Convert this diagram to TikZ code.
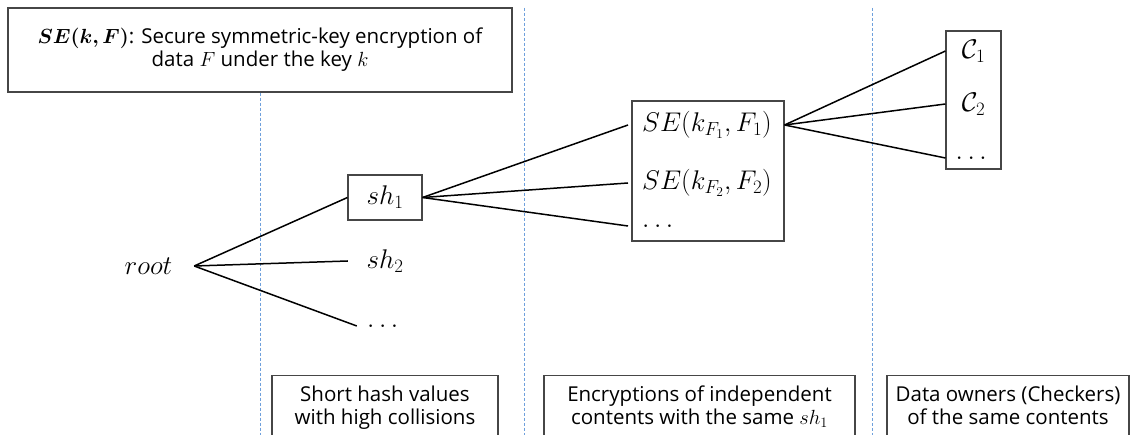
\documentclass[tikz,border=0pt]{standalone}
\usepackage{fix-cm}
\usepackage{amsmath,amssymb}
\usepackage{bm}
\usepackage{fontspec}
\setmainfont{Open Sans}
\usetikzlibrary{positioning,calc}
\definecolor{sepblue}{RGB}{110,160,220}
\definecolor{boxgray}{RGB}{70,70,70}
\newcommand{\tailstrut}{\rule[-40pt]{0pt}{40pt}}

\begin{document}
\begin{tikzpicture}[x=1pt, y=-1pt,
    txt/.style={font=\fontsize{20.5}{23}\selectfont},
    mth/.style={font=\fontsize{27}{30}\selectfont},
    box/.style={draw=boxgray, line width=1.1pt},
    note/.style={box, txt, anchor=north, align=center, inner ysep=10pt},
    sep/.style={sepblue, dash pattern=on 3pt off 2pt, line width=0.9pt},
    edge/.style={line width=1.5pt}]
    \path[use as bounding box, clip] (0,0) rectangle (1138,435);
    \fill[white] (0,0) rectangle (1138,435);

    % legend
    \node[box, txt, align=center, minimum width=504pt, minimum height=84pt] (legend) at (260,50)
        {$\bm{SE(k,F)}$: Secure symmetric-key encryption of\\data $F$ under the key $k$};

    % separators
    \coordinate (s2top) at (524,8);
    \coordinate (s3top) at (872,8);
    \draw[sep] (legend.south) -- (legend.south |- 0,435);
    \draw[sep] (s2top) -- (s2top |- 0,435);
    \draw[sep] (s3top) -- (s3top |- 0,435);

    % short hashes
    \node[mth, minimum width=91pt] (root) at (148.5,266) {$root$};
    \node[mth, box, minimum width=74pt, minimum height=45pt] (sh1) at (385,197.5) {$sh_1$};
    \node[mth, minimum width=74pt] (sh2) at (385,261) {$sh_2$};
    \node[mth, minimum width=56pt] (shx) at (385,326) {$\dots$};
    \draw[edge] (root.east) -- (sh1.west);
    \draw[edge] (root.east) -- (sh2.west);
    \draw[edge] (root.east) -- (shx.west);

    % encryptions
    \node[box, minimum width=152pt, minimum height=140pt] (encbox) at (708,171) {};
    \node[mth, anchor=west, inner xsep=14pt] (e1) at (628,125) {$SE(k_{F_1},F_1)$};
    \node[mth, anchor=west, inner xsep=14pt] (e2) at (628,183) {$SE(k_{F_2},F_2)$};
    \node[mth, anchor=west, inner xsep=14pt] (ex) at (628,226) {$\dots$};
    \draw[edge] (sh1.east) -- (e1.west);
    \draw[edge] (sh1.east) -- (e2.west);
    \draw[edge] (sh1.east) -- (ex.west);

    % checkers
    \node[box, minimum width=55pt, minimum height=138pt] (owners) at (973.5,100) {};
    \node[mth] (c1) at (973.5,51) {$\mathcal{C}_1$};
    \node[mth] (c2) at (973.5,104) {$\mathcal{C}_2$};
    \node[mth] (cx) at (973.5,158) {$\dots$};
    \draw[edge] (e1 -| encbox.east) -- (c1 -| owners.west);
    \draw[edge] (e1 -| encbox.east) -- (c2 -| owners.west);
    \draw[edge] (e1 -| encbox.east) -- (cx -| owners.west);

    % captions
    \node[note, minimum width=226pt] (hashnote) at (385,375)
        {Short hash values\\with high collisions\tailstrut};
    \node[note, minimum width=311pt] (encnote) at (699.5,375)
        {Encryptions of independent\\contents with the same $sh_1$\tailstrut};
    \node[note, minimum width=242pt] (ownnote) at (1008,375)
        {Data owners (Checkers)\\of the same contents\tailstrut};
\end{tikzpicture}
\end{document}
